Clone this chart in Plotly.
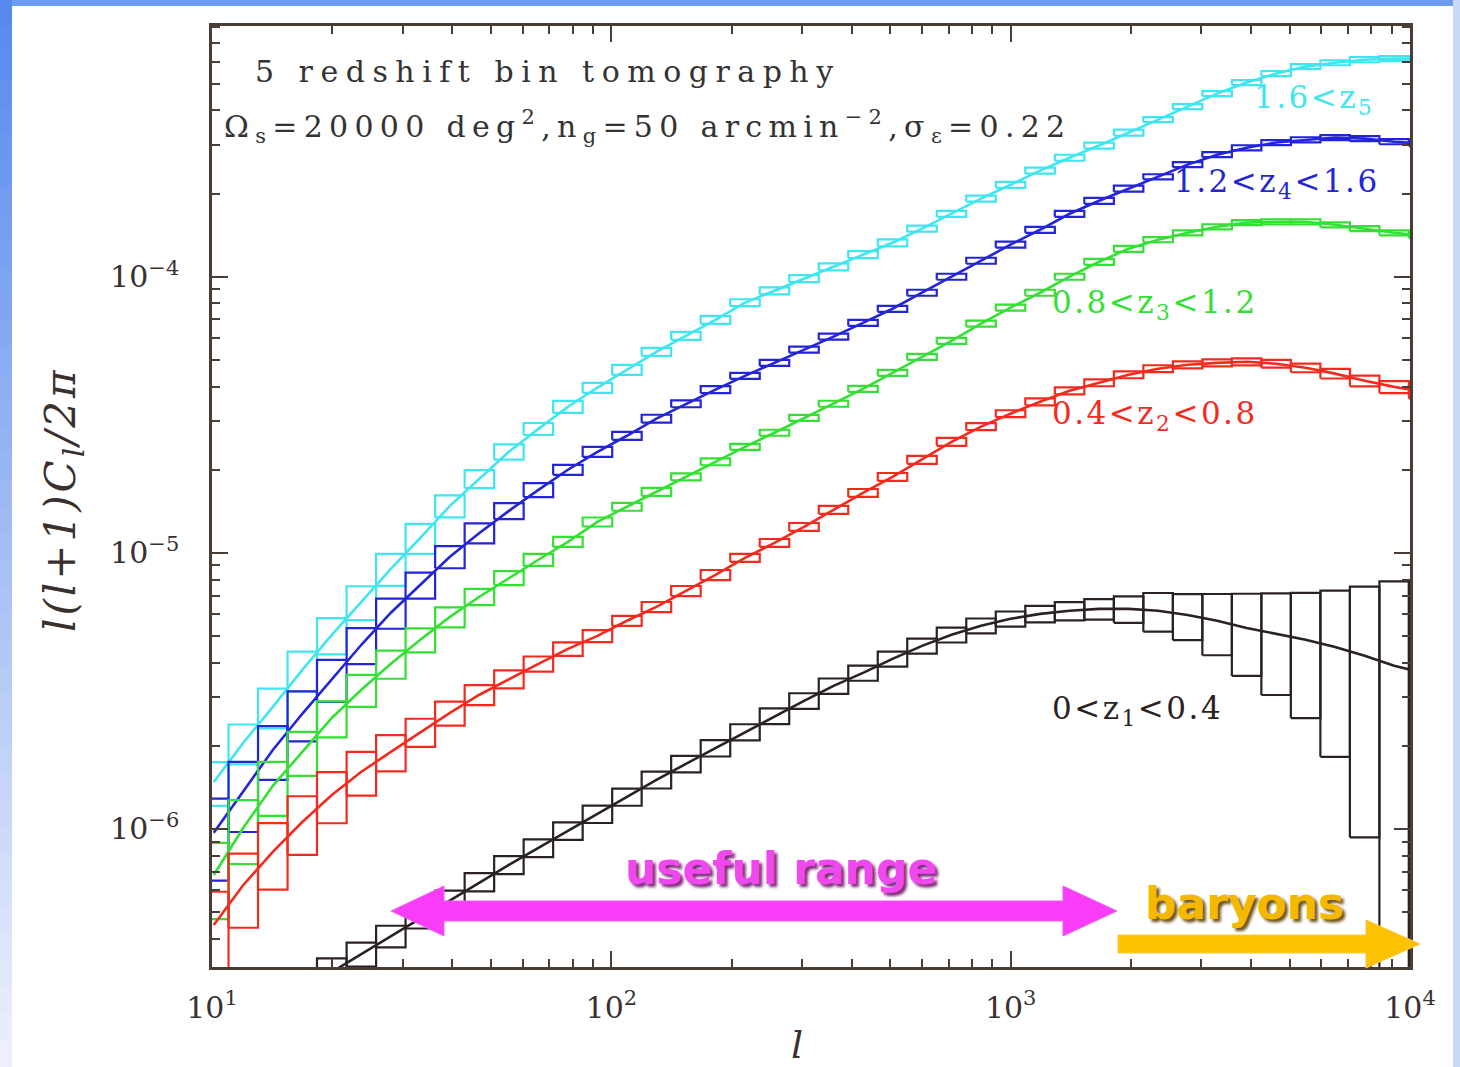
import numpy as np
import plotly.graph_objects as go

# ---------------- data ----------------
# multipole bin edges (log-spaced bins)
bin_edges = [9.277, 11.00, 13.04, 15.46, 18.32, 21.73, 25.76, 30.53, 36.20, 42.92,
             50.88, 60.31, 71.50, 84.76, 100.5, 119.1, 141.2, 167.4, 198.5, 235.3,
             278.9, 330.7, 392.0, 464.7, 550.8, 653.0, 774.1, 917.7, 1088, 1290,
             1529, 1813, 2149, 2548, 3020, 3580, 4244, 5031, 5965, 7071,
             8382, 9938, 11780]

# log10 of l(l+1)C_l/2pi in every bin
log_cl_z5 = [-5.830, -5.688, -5.558, -5.424, -5.297, -5.178, -5.058, -4.946, -4.830, -4.732,
             -4.634, -4.551, -4.471, -4.402, -4.337, -4.272, -4.214, -4.156, -4.094, -4.051,
             -4.007, -3.964, -3.920, -3.877, -3.826, -3.772, -3.717, -3.667, -3.616, -3.569,
             -3.525, -3.478, -3.431, -3.384, -3.337, -3.297, -3.264, -3.239, -3.225, -3.214,
             -3.210, -3.210]
log_cl_z4 = [-6.014, -5.866, -5.714, -5.583, -5.457, -5.333, -5.217, -5.116, -5.014, -4.928,
             -4.848, -4.772, -4.699, -4.634, -4.576, -4.514, -4.460, -4.409, -4.359, -4.312,
             -4.264, -4.217, -4.167, -4.116, -4.058, -4.000, -3.942, -3.884, -3.830, -3.772,
             -3.725, -3.681, -3.638, -3.594, -3.558, -3.533, -3.514, -3.504, -3.496, -3.500,
             -3.511, -3.518]
log_cl_z3 = [-6.167, -5.996, -5.844, -5.721, -5.598, -5.496, -5.402, -5.315, -5.232, -5.159,
             -5.091, -5.025, -4.960, -4.888, -4.833, -4.779, -4.725, -4.670, -4.616, -4.565,
             -4.511, -4.460, -4.406, -4.348, -4.290, -4.232, -4.170, -4.112, -4.058, -4.000,
             -3.946, -3.899, -3.866, -3.841, -3.819, -3.804, -3.801, -3.801, -3.812, -3.826,
             -3.841, -3.851]
log_cl_z2 = [-6.348, -6.203, -6.083, -5.975, -5.877, -5.793, -5.721, -5.649, -5.580, -5.514,
             -5.457, -5.402, -5.348, -5.301, -5.246, -5.196, -5.138, -5.080, -5.018, -4.964,
             -4.906, -4.844, -4.783, -4.725, -4.663, -4.598, -4.543, -4.496, -4.453, -4.413,
             -4.384, -4.355, -4.333, -4.319, -4.312, -4.308, -4.315, -4.330, -4.351, -4.377,
             -4.399, -4.417]
log_cl_z1 = [-6.801, -6.728, -6.656, -6.583, -6.518, -6.453, -6.388, -6.322, -6.257, -6.192,
             -6.130, -6.069, -6.007, -5.946, -5.884, -5.822, -5.764, -5.707, -5.649, -5.591,
             -5.536, -5.482, -5.435, -5.384, -5.337, -5.297, -5.264, -5.239, -5.221, -5.210,
             -5.203, -5.203, -5.210, -5.225, -5.246, -5.272, -5.293, -5.315, -5.341, -5.373,
             -5.409, -5.435]

# relative 1-sigma errors (box half height / value)
relerr_z5 = [0.18, 0.165, 0.165, 0.165, 0.15, 0.14, 0.133, 0.125, 0.092, 0.075,
             0.063, 0.05, 0.05, 0.042, 0.042, 0.033, 0.033, 0.033, 0.029, 0.029,
             0.029, 0.029, 0.029, 0.029, 0.025, 0.025, 0.025, 0.025, 0.025, 0.025,
             0.025, 0.025, 0.021, 0.021, 0.021, 0.021, 0.021, 0.021, 0.021, 0.021,
             0.021, 0.021]
relerr_z4 = [0.329, 0.284, 0.221, 0.206, 0.174, 0.149, 0.125, 0.108, 0.092, 0.083,
             0.067, 0.058, 0.042, 0.042, 0.033, 0.033, 0.029, 0.029, 0.025, 0.025,
             0.025, 0.025, 0.025, 0.025, 0.025, 0.025, 0.025, 0.025, 0.025, 0.025,
             0.025, 0.025, 0.021, 0.021, 0.021, 0.021, 0.021, 0.021, 0.021, 0.021,
             0.021, 0.021]
relerr_z3 = [0.307, 0.261, 0.221, 0.181, 0.149, 0.133, 0.117, 0.10, 0.083, 0.067,
             0.058, 0.05, 0.042, 0.0375, 0.033, 0.033, 0.029, 0.029, 0.025, 0.025,
             0.025, 0.025, 0.025, 0.025, 0.025, 0.025, 0.025, 0.025, 0.025, 0.025,
             0.025, 0.025, 0.021, 0.021, 0.021, 0.021, 0.021, 0.021, 0.021, 0.021,
             0.021, 0.021]
relerr_z2 = [0.32, 0.30, 0.27, 0.24, 0.21, 0.18, 0.15, 0.117, 0.10, 0.083,
             0.075, 0.063, 0.056, 0.05, 0.042, 0.042, 0.042, 0.042, 0.033, 0.033,
             0.033, 0.033, 0.033, 0.033, 0.033, 0.033, 0.029, 0.029, 0.029, 0.029,
             0.029, 0.029, 0.029, 0.029, 0.029, 0.029, 0.033, 0.036, 0.04, 0.045,
             0.05, 0.055]
relerr_z1 = [0.16, 0.15, 0.14, 0.13, 0.12, 0.10, 0.09, 0.085, 0.08, 0.076,
             0.075, 0.074, 0.073, 0.072, 0.071, 0.07, 0.069, 0.068, 0.067, 0.066,
             0.065, 0.064, 0.063, 0.062, 0.062, 0.062, 0.062, 0.063, 0.068, 0.076,
             0.085, 0.11, 0.16, 0.19, 0.25, 0.33, 0.40, 0.48, 0.60, 0.78,
             1.02, 1.15]

bin_labels = ["1.6&lt;z<sub>5</sub>", "1.2&lt;z<sub>4</sub>&lt;1.6", "0.8&lt;z<sub>3</sub>&lt;1.2",
              "0.4&lt;z<sub>2</sub>&lt;0.8", "0&lt;z<sub>1</sub>&lt;0.4"]
x_tick_vals = [10, 100, 1000, 10000]
x_tick_text = ["10<sup>1</sup>", "10<sup>2</sup>", "10<sup>3</sup>", "10<sup>4</sup>"]
y_tick_vals = [1e-6, 1e-5, 1e-4]
y_tick_text = ["10<sup>\u22126</sup>", "10<sup>\u22125</sup>", "10<sup>\u22124</sup>"]

# ---------------- styling ----------------
colors = ["#3fe6f0", "#2424d8", "#33e033", "#f52a1e", "#2a2222"]
frame_col = "#4a3c36"
serif = "DejaVu Serif"

PL, PR, PT, PB = 212, 1410, 26, 967          # plot-area pixel box
W, H = 1460, 1067

def xp(p):
    return (p - PL) / (PR - PL)

def yp(p):
    return (PB - p) / (PB - PT)

fig = go.Figure()

edges = np.array(bin_edges, dtype=float)
lo, hi = edges[:-1], edges[1:]
centers = np.sqrt(lo * hi)

series = [(log_cl_z5, relerr_z5), (log_cl_z4, relerr_z4), (log_cl_z3, relerr_z3),
          (log_cl_z2, relerr_z2), (log_cl_z1, relerr_z1)]

for (logc, rel), col in zip(series, colors):
    assert len(logc) == len(lo) and len(rel) == len(lo)
    c = np.power(10.0, np.array(logc))
    r = np.array(rel)
    top = c * (1 + r)
    bot = np.where(1 - r > 1e-3, c * (1 - r), 1e-9)
    bx, by = [], []
    for i in range(len(c)):
        bx += [lo[i], hi[i], hi[i], lo[i], lo[i], None]
        by += [bot[i], bot[i], top[i], top[i], bot[i], None]
    fig.add_trace(go.Scatter(x=bx, y=by, mode="lines", line=dict(color=col, width=2.2),
                             hoverinfo="skip", showlegend=False))
    fig.add_trace(go.Scatter(x=centers, y=c, mode="lines", line=dict(color=col, width=2.6),
                             showlegend=False))

minor_x = [v * m for v in (10, 100, 1000) for m in range(2, 10)]
minor_y = [v * m for v in (1e-7, 1e-6, 1e-5, 1e-4) for m in range(2, 10)]
minor_y = [v for v in minor_y if 3.2e-7 < v < 8.1e-4]

axis_common = dict(type="log", showgrid=False, zeroline=False, showline=True,
                   linecolor=frame_col, linewidth=2.5, mirror="ticks",
                   ticks="inside", ticklen=16, tickwidth=2, tickcolor=frame_col,
                   tickfont=dict(family=serif, size=30, color="#3a3030"))

fig.update_xaxes(range=[1, 4], tickvals=x_tick_vals, ticktext=x_tick_text,
                 ticklabelstandoff=12,
                 minor=dict(tickvals=minor_x, ticks="inside", ticklen=8, tickwidth=1.6,
                            tickcolor=frame_col, showgrid=False),
                 **axis_common)
fig.update_yaxes(range=[-6.5, -3.092], tickvals=y_tick_vals, ticktext=y_tick_text,
                 ticklabelstandoff=24,
                 minor=dict(tickvals=minor_y, ticks="inside", ticklen=8, tickwidth=1.6,
                            tickcolor=frame_col, showgrid=False),
                 **axis_common)

shapes = []
# slide background: blue frame
shapes.append(dict(type="rect", xref="paper", yref="paper", x0=xp(0), x1=xp(W), y0=yp(0), y1=yp(6),
                   fillcolor="#6e9cf0", line=dict(width=0), layer="below"))
shapes.append(dict(type="rect", xref="paper", yref="paper", x0=xp(1453), x1=xp(W), y0=yp(0), y1=yp(H),
                   fillcolor="#c9d9f8", line=dict(width=0), layer="below"))
nseg = 40
for i in range(nseg):
    t = i / (nseg - 1)
    rr = int(88 + (236 - 88) * t)
    gg = int(138 + (240 - 138) * t)
    bb = int(238 + (252 - 238) * t)
    shapes.append(dict(type="rect", xref="paper", yref="paper", x0=xp(0), x1=xp(12),
                       y0=yp(i * H / nseg), y1=yp((i + 1) * H / nseg + 1),
                       fillcolor=f"rgb({rr},{gg},{bb})", line=dict(width=0), layer="below"))


def poly(points):
    return "M " + " L ".join(f"{xp(a):.5f},{yp(b):.5f}" for a, b in points) + " Z"

# magenta double arrow ("useful range")
mag = [(391, 911), (444, 886), (444, 901), (1063, 901), (1063, 886), (1117, 911),
       (1063, 936), (1063, 921), (444, 921), (444, 936)]
shapes.append(dict(type="path", xref="paper", yref="paper", path=poly(mag),
                   fillcolor="#f83cf8", line=dict(color="#f060f0", width=1)))
# gold arrow ("baryons")
gold = [(1118, 935), (1366, 935), (1366, 920), (1420, 944), (1366, 968), (1366, 953), (1118, 953)]
shapes.append(dict(type="path", xref="paper", yref="paper", path=poly(gold),
                   fillcolor="#fcc200", line=dict(color="#fcc840", width=1)))

ann = []
ann.append(dict(text="<span style='letter-spacing:7.5px'>5 redshift bin tomography</span>",
                x=xp(253), y=yp(72), xanchor="left", yanchor="middle",
                font=dict(family=serif, size=30, color="#333333")))
ann.append(dict(text="<span style='letter-spacing:6.3px'>\u03a9<sub>s</sub>=20000 deg<sup>2</sup>,"
                     "n<sub>g</sub>=50 arcmin<sup>\u22122</sup>,\u03c3<sub>\u03b5</sub>=0.22</span>",
                x=xp(222), y=yp(127), xanchor="left", yanchor="middle",
                font=dict(family=serif, size=30, color="#333333")))

label_pos = [(1252, 100), (1172, 183), (1050, 305), (1050, 415), (1050, 710)]
for lab, col, (lx, ly) in zip(bin_labels, colors, label_pos):
    ann.append(dict(text=f"<span style='letter-spacing:2.5px'>{lab}</span>",
                    x=xp(lx), y=yp(ly), xanchor="left", yanchor="middle",
                    font=dict(family=serif, size=31, color=col)))

ann.append(dict(text="<b>useful range</b>", x=xp(781), y=yp(868), xanchor="center", yanchor="middle",
                font=dict(family="DejaVu Sans", size=44, color="#ee48ee",
                          shadow="3px 3px 3px #7a2a7a")))
ann.append(dict(text="<b>baryons</b>", x=xp(1244), y=yp(903), xanchor="center", yanchor="middle",
                font=dict(family="DejaVu Sans", size=44, color="#f4b800",
                          shadow="3px 3px 3px #6a5418")))

# axis titles
ann.append(dict(text="<i>l</i>", x=xp(797), y=yp(1045), xanchor="center", yanchor="middle",
                font=dict(family=serif, size=38, color="#3a3030")))
ann.append(dict(text="<span style='letter-spacing:3px'><i>l(l+1)C<sub>l</sub>/2\u03c0</i></span>",
                x=xp(63), y=yp(500),
                xanchor="center", yanchor="middle", textangle=-90,
                font=dict(family=serif, size=42, color="#3a3030")))

for a in ann:
    a.update(xref="paper", yref="paper", showarrow=False)

fig.update_layout(width=W, height=H, autosize=False,
                  margin=dict(l=PL, r=W - PR, t=PT, b=H - PB),
                  paper_bgcolor="white", plot_bgcolor="white",
                  font=dict(family=serif),
                  shapes=shapes, annotations=ann, showlegend=False)

fig.write_html("out.html", config={"displayModeBar": False},
               post_script="document.body.style.margin='0';document.body.style.overflow='hidden';")
